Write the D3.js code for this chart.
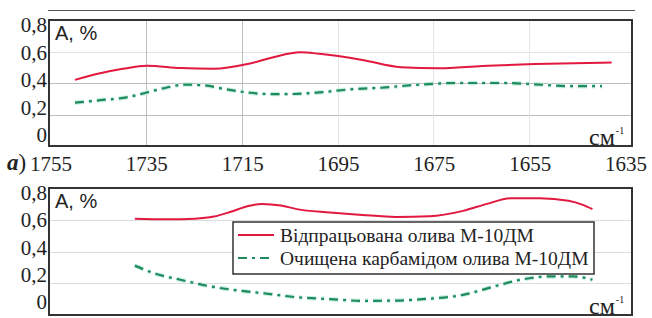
<!DOCTYPE html>
<html><head><meta charset="utf-8">
<script src="https://cdn.jsdelivr.net/npm/d3@7"></script>
</head><body style="margin:0">
<script>
// ---- data ----
const xTicks = [1755, 1735, 1715, 1695, 1675, 1655, 1635];
const yTicks = [0, 0.2, 0.4, 0.6, 0.8];
const yTickLabels = ["0", "0,2", "0,4", "0,6", "0,8"];
const seriesNames = ["Відпрацьована олива М-10ДМ", "Очищена карбамідом олива М-10ДМ"];

// panel a) top
const topRedWn  = [1750,1745,1740,1735,1728,1721,1714,1709,1703,1699,1690,1682,1674,1665,1654,1638];
const topRedVal = [0.42,0.46,0.49,0.51,0.495,0.49,0.52,0.56,0.595,0.585,0.546,0.50,0.493,0.508,0.52,0.53];
const topGreenWn  = [1750,1745,1739,1735,1731,1727,1723,1718.5,1714,1710,1705,1699,1692.5,1686,1678,1670,1661,1653,1647,1640];
const topGreenVal = [0.275,0.29,0.31,0.34,0.37,0.39,0.385,0.36,0.34,0.33,0.33,0.34,0.36,0.37,0.39,0.40,0.40,0.39,0.38,0.38];

// panel b) bottom
const botRedWn  = [1737.5,1731,1725,1721,1717.5,1714,1711,1707,1703.7,1696.8,1690,1683,1676,1669,1664,1659,1653,1647,1644,1642];
const botRedVal = [0.607,0.603,0.607,0.62,0.65,0.685,0.70,0.69,0.667,0.646,0.63,0.618,0.622,0.656,0.70,0.735,0.736,0.72,0.694,0.667];
const botGreenWn  = [1737.5,1733,1728,1722.4,1716.2,1711,1703.7,1696.8,1690,1683,1677.4,1669,1662,1657,1651,1646,1642];
const botGreenVal = [0.311,0.258,0.222,0.184,0.155,0.138,0.112,0.10,0.089,0.091,0.10,0.127,0.184,0.222,0.243,0.243,0.222];

// ---- drawing ----
const W = 652, H = 318;
const RED = "#e2183f", GREEN = "#1f8a5c";
const DASH = "9,5,3,5";
const serifStyle = size => `font-family: "Liberation Serif"; font-size: ${size}px`;
const sansStyle = size => `font-family: "Liberation Sans"; font-size: ${size}px`;

const svg = d3.select("body").append("svg").attr("width", W).attr("height", H);

const x = d3.scaleLinear().domain([1755, 1635]).range([51, 626]);
const boxL = 49, boxR = 632;

svg.append("line").attr("x1", 48).attr("x2", 635).attr("y1", 10.5).attr("y2", 10.5)
  .attr("stroke", "#555").attr("stroke-width", 1);

function panel(top, bottom, labTop, labBot, redWn, redVal, greenWn, greenVal, opts) {
  const y = d3.scaleLinear().domain([0, 0.8]).range([bottom, top]);
  const yl = d3.scaleLinear().domain([0, 0.8]).range([labBot, labTop]);
  const g = svg.append("g");
  g.selectAll(".hg").data(yTicks.slice(1, 4)).join("line")
    .attr("x1", boxL).attr("x2", boxR)
    .attr("y1", d => Math.round(y(d)) + 0.5).attr("y2", d => Math.round(y(d)) + 0.5)
    .attr("stroke", d => opts.hgColor(d)).attr("stroke-width", 1);
  if (opts.vgrid) {
    g.selectAll(".vg").data(xTicks.slice(1, 6)).join("line")
      .attr("x1", d => Math.round(x(d)) - 0.5).attr("x2", d => Math.round(x(d)) - 0.5)
      .attr("y1", top).attr("y2", bottom)
      .attr("stroke", d => (d === 1735 || d === 1715) ? "#bdbdbd" : "#e4e4e4").attr("stroke-width", 1);
  }
  g.append("rect").attr("x", boxL).attr("y", top).attr("width", boxR - boxL).attr("height", bottom - top)
    .attr("fill", "none").attr("stroke", "#333").attr("stroke-width", 2);
  g.selectAll(".yl").data(yTicks).join("text")
    .attr("style", serifStyle(21))
    .attr("x", 47).attr("y", d => yl(d) + 7)
    .attr("text-anchor", "end").attr("fill", "#222")
    .text((d, i) => yTickLabels[i]);
  g.append("text").attr("style", sansStyle(20))
    .attr("x", 55).attr("y", top + 20).attr("fill", "#222").text("A, %");
  const cm = g.append("text").attr("style", serifStyle(24))
    .attr("x", 589).attr("y", bottom - 1).attr("fill", "#222");
  cm.append("tspan").text("см");
  cm.append("tspan").attr("style", serifStyle(10)).attr("dy", -11).attr("dx", 1).text("-1");

  const line = d3.line().x(d => x(d[0])).y(d => y(d[1])).curve(d3.curveMonotoneX);
  const redPts = redWn.map((w, i) => [w, redVal[i]]);
  const greenPts = greenWn.map((w, i) => [w, greenVal[i]]);
  g.append("path").attr("d", line(greenPts)).attr("fill", "none")
    .attr("stroke", "#c8efe3").attr("stroke-width", 4.5).attr("stroke-dasharray", DASH);
  g.append("path").attr("d", line(greenPts)).attr("fill", "none")
    .attr("stroke", GREEN).attr("stroke-width", 2.2).attr("stroke-dasharray", DASH);
  g.append("path").attr("d", line(redPts)).attr("fill", "none")
    .attr("stroke", RED).attr("stroke-width", 2);
  return g;
}

panel(20, 146, 25, 135, topRedWn, topRedVal, topGreenWn, topGreenVal,
  { vgrid: true, hgColor: d => d === 0.6 ? "#e2e2e2" : "#bdbdbd" });
panel(188, 315, 193, 302, botRedWn, botRedVal, botGreenWn, botGreenVal,
  { vgrid: false, hgColor: d => "#dcdcdc" });

svg.selectAll(".xl").data(xTicks).join("text")
  .attr("style", serifStyle(21))
  .attr("x", d => x(d)).attr("y", 171).attr("text-anchor", "middle")
  .attr("fill", "#222").text(d => d);
const lab = svg.append("text").attr("style", serifStyle(23))
  .attr("x", 7).attr("y", 170).attr("fill", "#222");
lab.append("tspan").attr("font-style", "italic").attr("font-weight", "bold").text("а");
lab.append("tspan").text(")");

const lg = svg.append("g");
lg.append("rect").attr("x", 233).attr("y", 222).attr("width", 361).attr("height", 52)
  .attr("fill", "#fff").attr("stroke", "#333").attr("stroke-width", 1.5);
const legY = [235, 258];
lg.append("line").attr("x1", 238).attr("x2", 274).attr("y1", legY[0]).attr("y2", legY[0])
  .attr("stroke", RED).attr("stroke-width", 2);
lg.append("line").attr("x1", 238).attr("x2", 274).attr("y1", legY[1]).attr("y2", legY[1])
  .attr("stroke", GREEN).attr("stroke-width", 2.2).attr("stroke-dasharray", DASH);
lg.selectAll(".lt").data(seriesNames).join("text")
  .attr("style", serifStyle(19.5))
  .attr("x", 280).attr("y", (d, i) => legY[i] + 7)
  .attr("fill", "#222").text(d => d);
</script>
</body></html>
